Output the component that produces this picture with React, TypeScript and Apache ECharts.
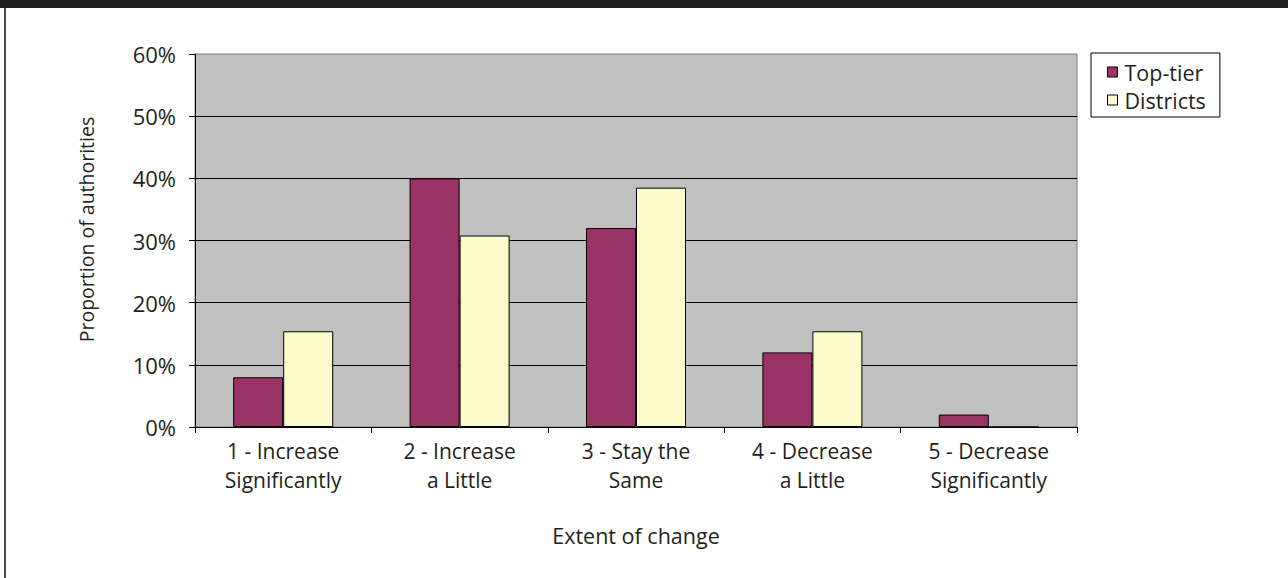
import React, { useEffect, useRef } from "react";
import * as echarts from "echarts";

// Categories on the x axis (two-line labels)
const categories = [
  "1 - Increase\nSignificantly",
  "2 - Increase\na Little",
  "3 - Stay the\nSame",
  "4 - Decrease\na Little",
  "5 - Decrease\nSignificantly",
];

// Proportion of authorities (%) per series
const topTier = [8, 40, 32, 12, 2];
const districts = [15.4, 30.8, 38.5, 15.4, 0];

const seriesNames = ["Top-tier", "Districts"];
const seriesColors = ["#993366", "#FDFACC"];

const yTicks = { min: 0, max: 60, interval: 10 };

const FONT = "'Open Sans', 'Noto Sans', sans-serif";
const TEXT = "#231F20";

export default function App() {
  const ref = useRef<HTMLDivElement>(null);

  useEffect(() => {
    if (!ref.current) return;
    const chart = echarts.init(ref.current, null, { renderer: "svg" });

    chart.setOption({
      animation: false,
      backgroundColor: "#ffffff",
      textStyle: { fontFamily: FONT, color: TEXT },
      graphic: [
        {
          type: "rect",
          shape: { x: 0, y: 0, width: 1288, height: 8 },
          style: { fill: "#231F20" },
          silent: true,
        },
        {
          type: "rect",
          shape: { x: 4, y: 8, width: 2, height: 570 },
          style: { fill: "#4D4D4F" },
          silent: true,
        },
      ],
      legend: {
        orient: "vertical",
        left: 1091,
        top: 53,
        data: seriesNames,
        icon: "rect",
        itemWidth: 10,
        itemHeight: 10,
        itemGap: 6,
        padding: [8, 14, 6, 16],
        borderColor: "#000",
        borderWidth: 1,
        borderRadius: 0,
        backgroundColor: "#fff",
        itemStyle: { borderColor: "#000", borderWidth: 1 },
        textStyle: {
          fontFamily: FONT,
          fontSize: 21.5,
          color: TEXT,
          lineHeight: 22,
          padding: [0, 0, 0, 2],
        },
      },
      grid: {
        left: 195,
        right: 211,
        top: 54,
        bottom: 151,
        show: true,
        backgroundColor: "#C0C0C0",
        borderColor: "#808080",
        borderWidth: 1,
      },
      xAxis: {
        type: "category",
        data: categories,
        name: "Extent of change",
        nameLocation: "middle",
        nameGap: 97,
        nameTextStyle: { fontFamily: FONT, fontSize: 21.5, color: TEXT },
        axisLine: { show: true, lineStyle: { color: "#000", width: 1 } },
        axisTick: { show: true, length: 6, lineStyle: { color: "#000" } },
        axisLabel: {
          fontFamily: FONT,
          fontSize: 21,
          color: TEXT,
          lineHeight: 29,
          margin: 9,
          interval: 0,
        },
        splitLine: { show: false },
      },
      yAxis: {
        type: "value",
        min: yTicks.min,
        max: yTicks.max,
        interval: yTicks.interval,
        name: "Proportion of authorities",
        nameLocation: "middle",
        nameGap: 99,
        nameTextStyle: {
          fontFamily: FONT,
          fontSize: 19.5,
          color: TEXT,
          padding: [0, 0, 0, 22],
        },
        axisLine: { show: true, lineStyle: { color: "#000", width: 1 } },
        axisTick: { show: true, length: 6, lineStyle: { color: "#000" } },
        axisLabel: {
          fontFamily: FONT,
          fontSize: 22,
          color: TEXT,
          margin: 19,
          formatter: "{value}%",
        },
        splitLine: {
          show: true,
          showMaxLine: false,
          lineStyle: { color: "#000", width: 1 },
        },
      },
      series: [
        {
          name: seriesNames[0],
          type: "bar",
          data: topTier,
          barWidth: 50,
          barGap: "0%",
          itemStyle: { color: seriesColors[0], borderColor: "#000", borderWidth: 1 },
        },
        {
          name: seriesNames[1],
          type: "bar",
          data: districts,
          barWidth: 50,
          barGap: "0%",
          itemStyle: { color: seriesColors[1], borderColor: "#000", borderWidth: 1 },
        },
      ],
    });

    return () => chart.dispose();
  }, []);

  return (
    <div
      ref={ref}
      style={{ position: "absolute", left: 0, top: 0, width: 1288, height: 578 }}
    />
  );
}
